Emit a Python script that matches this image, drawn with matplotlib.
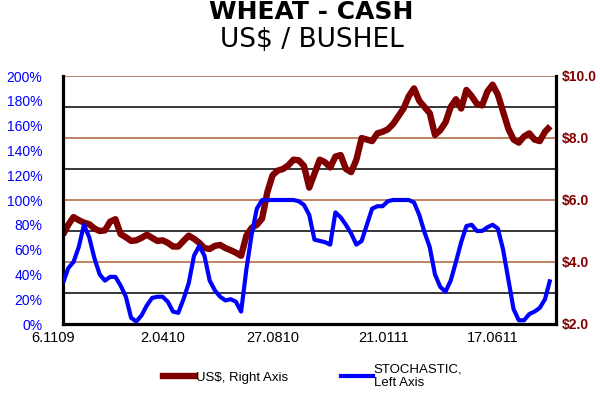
import matplotlib
matplotlib.use("Agg")
import matplotlib.pyplot as plt
from matplotlib.ticker import MultipleLocator, FixedLocator
from matplotlib.lines import Line2D
from matplotlib.transforms import ScaledTranslation

plt.rcParams["font.family"] = ["Liberation Sans", "DejaVu Sans"]

# weekly cash price, US$ per bushel (right axis)
price = [4.88, 5.20, 5.45, 5.35, 5.27, 5.22, 5.08, 5.00, 5.02, 5.30,
         5.38, 4.90, 4.80, 4.68, 4.70, 4.78, 4.88, 4.78, 4.68, 4.70,
         4.62, 4.50, 4.50, 4.68, 4.85, 4.75, 4.62, 4.45, 4.42, 4.52,
         4.55, 4.45, 4.38, 4.30, 4.20, 4.85, 5.10, 5.20, 5.40, 6.25,
         6.80, 6.95, 7.00, 7.12, 7.30, 7.28, 7.10, 6.40, 6.85, 7.30,
         7.22, 7.05, 7.40, 7.45, 7.00, 6.90, 7.30, 8.00, 7.95, 7.90,
         8.15, 8.20, 8.28, 8.45, 8.70, 8.95, 9.35, 9.60, 9.20, 9.00,
         8.80, 8.10, 8.25, 8.50, 9.00, 9.25, 8.95, 9.55, 9.35, 9.10,
         9.05, 9.50, 9.72, 9.40, 8.85, 8.30, 7.95, 7.85, 8.05, 8.15,
         7.95, 7.90, 8.20, 8.38]

# stochastic oscillator, percent (left axis)
stoch = [33, 45, 50, 62, 80, 70, 53, 40, 35, 38,
         38, 31, 22, 5, 2, 7, 15, 21, 22, 22,
         18, 10, 9, 20, 33, 55, 63, 55, 35, 27,
         22, 19, 20, 18, 10, 44, 72, 93, 100, 100,
         100, 100, 100, 100, 100, 99, 96, 88, 68, 67,
         66, 64, 90, 86, 80, 73, 64, 67, 80, 93,
         95, 95, 99, 100, 100, 100, 100, 98, 88, 74,
         62, 40, 30, 26, 35, 50, 66, 79, 80, 75,
         75, 78, 80, 77, 60, 36, 12, 3, 3, 8,
         10, 13, 20, 36]

tick_pos = [0, 21, 42, 63, 84]
tick_labels = ["6.1109", "2.0410", "27.0810", "21.0111", "17.0611"]

weeks = list(range(len(price)))

BROWN = "#800000"
BLUE = "#0000FF"
GRID_BROWN = "#B97A57"

fig = plt.figure(figsize=(6, 3.94), dpi=100)
ax = fig.add_axes([63 / 600, 1 - 324 / 394, 493 / 600, 248 / 394])
ax2 = ax.twinx()

ax.plot(weeks, price, color=BROWN, linewidth=4.6, solid_capstyle="butt")
ax2.plot(weeks, stoch, color=BLUE, linewidth=3.0, solid_capstyle="butt")

ax.set_xlim(0, 94.1)
ax.set_ylim(2, 10)
ax2.set_ylim(0, 200)

# price axis on the right, percent axis on the left
ax.yaxis.tick_right()
ax2.yaxis.tick_left()
ax.yaxis.set_major_locator(MultipleLocator(2))
ax.yaxis.set_minor_locator(FixedLocator([3, 5, 7, 9]))
ax.set_yticklabels([f"${v:.1f}" for v in ax.get_yticks()])
ax.grid(True, which="major", axis="y", color=GRID_BROWN, linewidth=1.3)
ax.grid(True, which="minor", axis="y", color="black", linewidth=1.1)
ax.tick_params(axis="y", which="both", length=0, pad=4, labelsize=10,
               labelcolor=BROWN)
for t in ax.get_yticklabels():
    t.set_fontweight("bold")

ax2.yaxis.set_major_locator(MultipleLocator(20))
ax2.set_yticklabels([f"{int(v)}%" for v in ax2.get_yticks()])
ax2.tick_params(axis="y", length=0, pad=15, labelsize=10, labelcolor=BLUE)

ax.set_xticks(tick_pos)
ax.set_xticklabels(tick_labels)
ax.tick_params(axis="x", length=0, pad=5, labelsize=10.5)
shift = ScaledTranslation(-10 / 100, 0, fig.dpi_scale_trans)
for t in ax.get_xticklabels():
    t.set_transform(t.get_transform() + shift)

for side in ["left", "right", "bottom"]:
    ax.spines[side].set_linewidth(2.3)
    ax.spines[side].set_color("black")
ax.spines["top"].set_visible(False)
for s in ax2.spines.values():
    s.set_visible(False)

fig.text(0.518, 1 - 19 / 394, "WHEAT - CASH", ha="center", va="baseline",
         fontsize=18, fontweight="bold", family="DejaVu Sans")
fig.text(0.52, 1 - 47 / 394, "US$ / BUSHEL", ha="center", va="baseline",
         fontsize=19, family="DejaVu Sans")

handles = [Line2D([], [], color=BROWN, linewidth=4.6),
           Line2D([], [], color=BLUE, linewidth=3.0)]
fig.legend(handles, ["US$, Right Axis", "STOCHASTIC,\nLeft Axis"],
           loc="center left", bbox_to_anchor=(163 / 600, 1 - 376 / 394),
           ncol=2, frameon=False, fontsize=9.5, handlelength=2.4,
           handletextpad=0.1, columnspacing=4.0, borderpad=0,
           borderaxespad=0)

fig.savefig("out.png", dpi=100)
